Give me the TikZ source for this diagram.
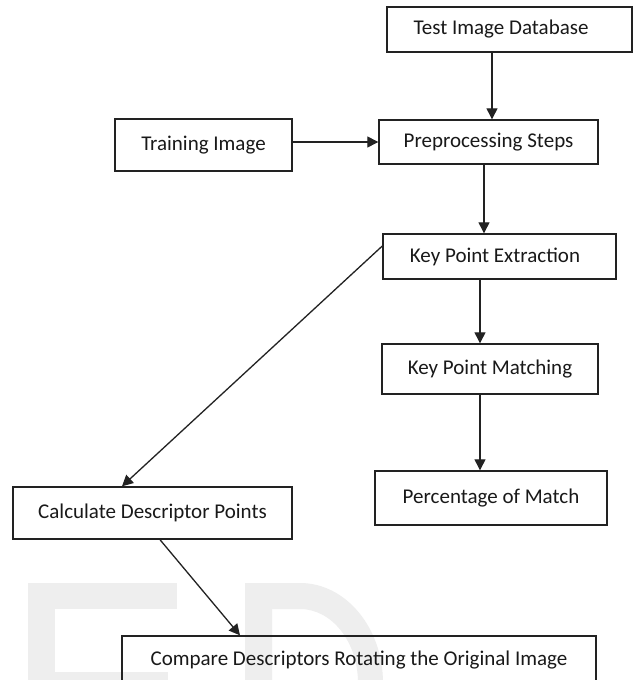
\documentclass[tikz,border=0pt]{standalone}
\usepackage{fontspec}
\setmainfont{Carlito}
\usetikzlibrary{arrows.meta}
\newcommand\boxfont{\fontsize{21}{24}\selectfont}
\definecolor{wmgray}{HTML}{EEEEEE}
\definecolor{linecol}{HTML}{222222}
\tikzset{
  box/.style={draw=linecol, line width=1.4pt, rectangle, inner sep=0pt, font=\boxfont, text=black!90},
  arr/.style={draw=linecol, line width=1.3pt, -{Triangle[length=11pt,width=11pt]}},
  wm/.style={fill=wmgray}
}
\begin{document}
\begin{tikzpicture}[x=1pt,y=-1pt]
\useasboundingbox (0,0) rectangle (634,680);
\clip (0,0) rectangle (634,680);
\fill[white] (0,0) rectangle (634,680);
% watermark letters
\fill[wm] (28,583) rectangle (177,609);
\fill[wm] (28,583) rectangle (55,700);
\fill[wm] (28,672) rectangle (168,700);
\fill[wm] (245,583) -- (300,583) .. controls (346,583) and (383,628) .. (383,683)
  -- (383,700) -- (358,700) -- (358,683) .. controls (358,642) and (332,609) .. (300,609)
  -- (272,609) -- (272,700) -- (245,700) -- cycle;
% boxes
\node[box, minimum width=245, minimum height=45] (test) at (509.5,29.5) {\hspace*{-17pt}Test Image Database};
\node[box, minimum width=177, minimum height=52] (train) at (203.5,145) {Training Image};
\node[box, minimum width=219, minimum height=44] (prep) at (488.5,142) {Preprocessing Steps};
\node[box, minimum width=233, minimum height=45] (kpe) at (499.5,256.5) {\hspace*{-9pt}Key Point Extraction};
\node[box, minimum width=216, minimum height=50] (kpm) at (490,369) {Key Point Matching};
\node[box, minimum width=232, minimum height=54] (pom) at (491,498) {Percentage of Match};
\node[box, minimum width=279, minimum height=52] (cdp) at (152.5,513) {Calculate Descriptor Points};
\node[box, minimum width=474, minimum height=48] (cmp) at (359,660) {Compare Descriptors Rotating the Original Image};
% connectors
\draw[arr] ([xshift=-17.5]test.south) -- ([xshift=3.5]prep.north);
\draw[arr] (train.east |- prep.west) -- (prep.west);
\draw[arr] ([xshift=-4.5]prep.south) -- ([xshift=-15.5]kpe.north);
\draw[arr] ([xshift=-19.5]kpe.south) -- ([xshift=-10]kpm.north);
\draw[arr] ([xshift=-10]kpm.south) -- ([xshift=-11]pom.north);
\draw[arr] ([yshift=10.5]kpe.west) -- ([xshift=-30.5]cdp.north);
\draw[arr] ([xshift=7.5]cdp.south) -- ([xshift=-119]cmp.north);
\end{tikzpicture}
\end{document}
